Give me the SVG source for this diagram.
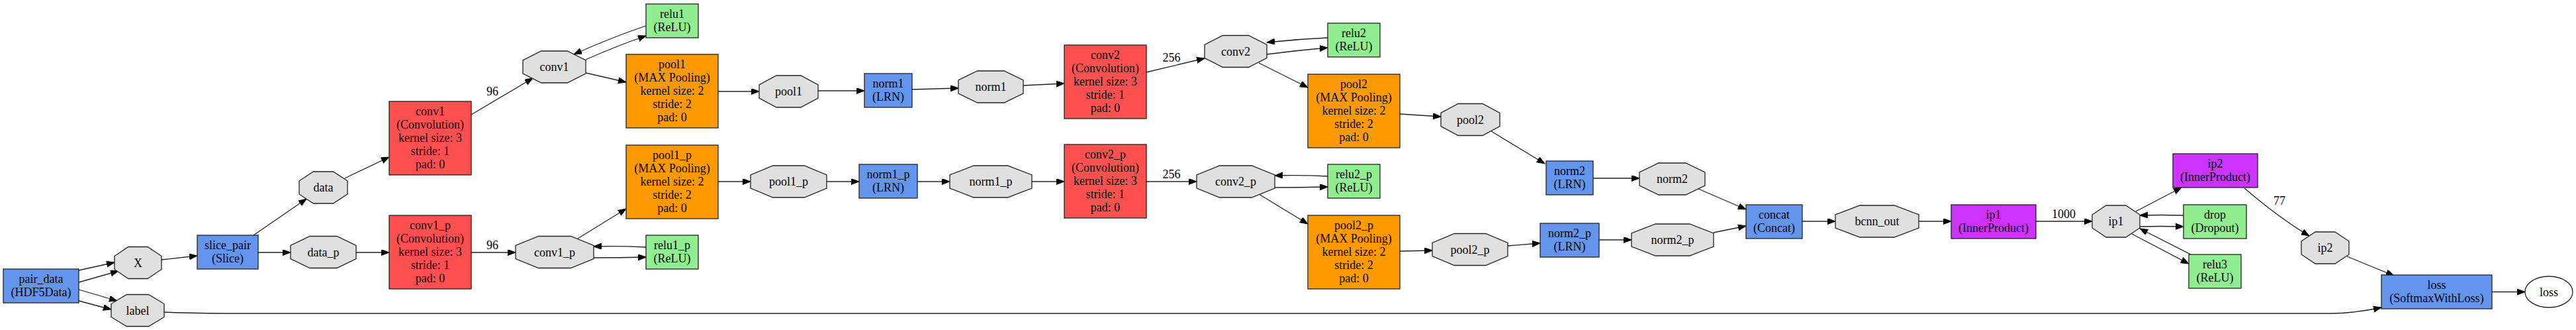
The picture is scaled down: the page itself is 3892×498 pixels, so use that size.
<svg xmlns="http://www.w3.org/2000/svg" width="3892" height="498" viewBox="0 0 3892 498">
<style>
text{font-family:"Liberation Serif","Times New Roman",serif;font-size:18px;fill:#000;text-anchor:middle}
.n{stroke:#222;stroke-width:1.3}
.conv{fill:#FF5050}.pool{fill:#FF9900}.ip{fill:#CC33FF}.act{fill:#90EE90}.oth{fill:#6495ED}.blob{fill:#E0E0E0}.out{fill:#fff}
.e{fill:none;stroke:#222;stroke-width:1.3;marker-end:url(#ah)}
</style>
<defs>
<marker id="ah" markerUnits="userSpaceOnUse" markerWidth="13" markerHeight="10" refX="12" refY="4.5" orient="auto"><path d="M0,0 L12,4.5 L0,9 z" fill="#000" stroke="#000" stroke-width="1"/></marker>
</defs>
<rect width="3892" height="498" fill="#fff"/>
<g id="connectors">
<path class="e" d="M119,408 L173,396"/>
<path class="e" d="M119,426 L179,409"/>
<path class="e" d="M119,437 L177,454"/>
<path class="e" d="M119,454 L168,467"/>
<path class="e" d="M244,392 L298,386"/>
<path class="e" d="M383,355 L463,300"/>
<path class="e" d="M390,381 L439,381"/>
<path class="e" d="M521,269 L588,237"/>
<path class="e" d="M538,381 L588,381"/>
<path class="e" d="M712,173 L805,118"/>
<path class="e" d="M885,90 Q930,70 976,54"/>
<path class="e" d="M976,39 Q925,56 867,82"/>
<path class="e" d="M885,110 L946,124"/>
<path class="e" d="M1085,138 L1147,138"/>
<path class="e" d="M1236,137 L1306,137"/>
<path class="e" d="M712,381 L779,381"/>
<path class="e" d="M873,360 L946,315"/>
<path class="e" d="M976,373 Q935,371 897,372"/>
<path class="e" d="M897,389 Q935,389 976,388"/>
<path class="e" d="M1085,274 L1134,274"/>
<path class="e" d="M1249,274 L1298,274"/>
<path class="e" d="M1378,135 L1448,133"/>
<path class="e" d="M1546,129 L1608,126"/>
<path class="e" d="M1732,109 L1820,88"/>
<path class="e" d="M1914,82 Q1960,76 2006,72"/>
<path class="e" d="M2006,57 Q1960,59 1914,64"/>
<path class="e" d="M1902,95 L1976,132"/>
<path class="e" d="M1386,274 L1435,274"/>
<path class="e" d="M1559,274 L1608,274"/>
<path class="e" d="M1732,274 L1808,274"/>
<path class="e" d="M2006,266 Q1965,264 1926,265"/>
<path class="e" d="M1926,283 Q1965,283 2006,282"/>
<path class="e" d="M1902,293 L1976,338"/>
<path class="e" d="M2115,172 L2177,176"/>
<path class="e" d="M2253,198 L2334,247"/>
<path class="e" d="M2115,379 L2164,378"/>
<path class="e" d="M2278,371 L2327,367"/>
<path class="e" d="M2407,269 L2477,269"/>
<path class="e" d="M2416,362 L2465,362"/>
<path class="e" d="M2566,285 L2638,316"/>
<path class="e" d="M2589,351 L2638,341"/>
<path class="e" d="M2723,334 L2773,334"/>
<path class="e" d="M2899,334 L2948,334"/>
<path class="e" d="M3076,334 L3161,334"/>
<path class="e" d="M3227,319 L3296,283"/>
<path class="e" d="M3233,342 Q3262,341 3299,342"/>
<path class="e" d="M3299,325 Q3265,324 3233,325"/>
<path class="e" d="M3221,353 L3307,398"/>
<path class="e" d="M3310,384 L3233,345"/>
<path class="e" d="M3391,284 Q3445,330 3489,356"/>
<path class="e" d="M3546,387 L3617,416"/>
<path class="e" d="M248,471 C290,473 320,473 360,473 L3520,473 C3550,473 3575,469 3598,464"/>
<path class="e" d="M3765,440.5 L3815,440.5"/>
<text x="744" y="144">96</text>
<text x="744" y="376">96</text>
<text x="1770" y="93">256</text>
<text x="1770" y="269">256</text>
<text x="3118" y="329">1000</text>
<text x="3444" y="309">77</text>
</g>
<g id="pair_data"><rect class="n oth" x="5" y="406" width="114" height="51"/><text x="62" y="427">pair_data</text><text x="62" y="447">(HDF5Data)</text></g>
<g id="blob_X"><polygon class="n blob" points="193.8,372.5 223.2,372.5 244,386.5 244,406.5 223.2,420.5 193.8,420.5 173,406.5 173,386.5"/><text x="208.5" y="402.5">X</text></g>
<g id="blob_label"><polygon class="n blob" points="191.4,444.5 224.6,444.5 248,458.5 248,478.5 224.6,492.5 191.4,492.5 168,478.5 168,458.5"/><text x="208" y="474.5">label</text></g>
<g id="slice_pair"><rect class="n oth" x="298" y="355" width="92" height="51"/><text x="344" y="376">slice_pair</text><text x="344" y="396">(Slice)</text></g>
<g id="blob_data"><polygon class="n blob" points="473.4,259 503.6,259 525,273 525,293 503.6,307 473.4,307 452,293 452,273"/><text x="488.5" y="289">data</text></g>
<g id="blob_data_p"><polygon class="n blob" points="468,356.5 509,356.5 538,370.5 538,390.5 509,404.5 468,404.5 439,390.5 439,370.5"/><text x="488.5" y="386.5">data_p</text></g>
<g id="conv1"><rect class="n conv" x="588" y="153" width="124" height="111"/><text x="650" y="174">conv1<tspan x="650" dy="20">(Convolution)</tspan><tspan x="650" dy="20">kernel size: 3</tspan><tspan x="650" dy="20">stride: 1</tspan><tspan x="650" dy="20">pad: 0</tspan></text></g>
<g id="conv1_p"><rect class="n conv" x="588" y="325" width="124" height="111"/><text x="650" y="346">conv1_p<tspan x="650" dy="20">(Convolution)</tspan><tspan x="650" dy="20">kernel size: 3</tspan><tspan x="650" dy="20">stride: 1</tspan><tspan x="650" dy="20">pad: 0</tspan></text></g>
<g id="blob_conv1"><polygon class="n blob" points="817.8,77 857.2,77 885,91 885,111 857.2,125 817.8,125 790,111 790,91"/><text x="837.5" y="107">conv1</text></g>
<g id="blob_conv1_p"><polygon class="n blob" points="813.6,356.5 862.4,356.5 897,370.5 897,390.5 862.4,404.5 813.6,404.5 779,390.5 779,370.5"/><text x="838" y="386.5">conv1_p</text></g>
<g id="relu1"><rect class="n act" x="976" y="6" width="79" height="51"/><text x="1015.5" y="27">relu1</text><text x="1015.5" y="47">(ReLU)</text></g>
<g id="pool1"><rect class="n pool" x="946" y="82" width="139" height="111"/><text x="1015.5" y="103">pool1<tspan x="1015.5" dy="20">(MAX Pooling)</tspan><tspan x="1015.5" dy="20">kernel size: 2</tspan><tspan x="1015.5" dy="20">stride: 2</tspan><tspan x="1015.5" dy="20">pad: 0</tspan></text></g>
<g id="pool1_p"><rect class="n pool" x="946" y="219" width="139" height="111"/><text x="1015.5" y="240">pool1_p<tspan x="1015.5" dy="20">(MAX Pooling)</tspan><tspan x="1015.5" dy="20">kernel size: 2</tspan><tspan x="1015.5" dy="20">stride: 2</tspan><tspan x="1015.5" dy="20">pad: 0</tspan></text></g>
<g id="relu1_p"><rect class="n act" x="976" y="355" width="79" height="51"/><text x="1015.5" y="376">relu1_p</text><text x="1015.5" y="396">(ReLU)</text></g>
<g id="blob_pool1"><polygon class="n blob" points="1173.1,114 1209.9,114 1236,128 1236,148 1209.9,162 1173.1,162 1147,148 1147,128"/><text x="1191.5" y="144">pool1</text></g>
<g id="blob_pool1_p"><polygon class="n blob" points="1167.7,250 1215.3,250 1249,264 1249,284 1215.3,298 1167.7,298 1134,284 1134,264"/><text x="1191.5" y="280">pool1_p</text></g>
<g id="norm1"><rect class="n oth" x="1306" y="111" width="72" height="51"/><text x="1342" y="132">norm1</text><text x="1342" y="152">(LRN)</text></g>
<g id="norm1_p"><rect class="n oth" x="1298" y="248" width="88" height="51"/><text x="1342" y="269">norm1_p</text><text x="1342" y="289">(LRN)</text></g>
<g id="blob_norm1"><polygon class="n blob" points="1476.7,107 1517.3,107 1546,121 1546,141 1517.3,155 1476.7,155 1448,141 1448,121"/><text x="1497" y="137">norm1</text></g>
<g id="blob_norm1_p"><polygon class="n blob" points="1471.3,250 1522.7,250 1559,264 1559,284 1522.7,298 1471.3,298 1435,284 1435,264"/><text x="1497" y="280">norm1_p</text></g>
<g id="conv2"><rect class="n conv" x="1608" y="68" width="124" height="111"/><text x="1670" y="89">conv2<tspan x="1670" dy="20">(Convolution)</tspan><tspan x="1670" dy="20">kernel size: 3</tspan><tspan x="1670" dy="20">stride: 1</tspan><tspan x="1670" dy="20">pad: 0</tspan></text></g>
<g id="conv2_p"><rect class="n conv" x="1608" y="218" width="124" height="111"/><text x="1670" y="239">conv2_p<tspan x="1670" dy="20">(Convolution)</tspan><tspan x="1670" dy="20">kernel size: 3</tspan><tspan x="1670" dy="20">stride: 1</tspan><tspan x="1670" dy="20">pad: 0</tspan></text></g>
<g id="blob_conv2"><polygon class="n blob" points="1847.5,53.5 1886.5,53.5 1914,67.5 1914,87.5 1886.5,101.5 1847.5,101.5 1820,87.5 1820,67.5"/><text x="1867" y="83.5">conv2</text></g>
<g id="blob_conv2_p"><polygon class="n blob" points="1842.6,250 1891.4,250 1926,264 1926,284 1891.4,298 1842.6,298 1808,284 1808,264"/><text x="1867" y="280">conv2_p</text></g>
<g id="relu2"><rect class="n act" x="2006" y="35" width="79" height="51"/><text x="2045.5" y="56">relu2</text><text x="2045.5" y="76">(ReLU)</text></g>
<g id="pool2"><rect class="n pool" x="1976" y="112" width="139" height="111"/><text x="2045.5" y="133">pool2<tspan x="2045.5" dy="20">(MAX Pooling)</tspan><tspan x="2045.5" dy="20">kernel size: 2</tspan><tspan x="2045.5" dy="20">stride: 2</tspan><tspan x="2045.5" dy="20">pad: 0</tspan></text></g>
<g id="relu2_p"><rect class="n act" x="2006" y="248" width="79" height="51"/><text x="2045.5" y="269">relu2_p</text><text x="2045.5" y="289">(ReLU)</text></g>
<g id="pool2_p"><rect class="n pool" x="1976" y="325" width="139" height="111"/><text x="2045.5" y="346">pool2_p<tspan x="2045.5" dy="20">(MAX Pooling)</tspan><tspan x="2045.5" dy="20">kernel size: 2</tspan><tspan x="2045.5" dy="20">stride: 2</tspan><tspan x="2045.5" dy="20">pad: 0</tspan></text></g>
<g id="blob_pool2"><polygon class="n blob" points="2203.1,156.5 2239.9,156.5 2266,170.5 2266,190.5 2239.9,204.5 2203.1,204.5 2177,190.5 2177,170.5"/><text x="2221.5" y="186.5">pool2</text></g>
<g id="blob_pool2_p"><polygon class="n blob" points="2197.4,352.5 2244.6,352.5 2278,366.5 2278,386.5 2244.6,400.5 2197.4,400.5 2164,386.5 2164,366.5"/><text x="2221" y="382.5">pool2_p</text></g>
<g id="norm2"><rect class="n oth" x="2336" y="243" width="71" height="51"/><text x="2371.5" y="264">norm2</text><text x="2371.5" y="284">(LRN)</text></g>
<g id="norm2_p"><rect class="n oth" x="2327" y="337" width="89" height="51"/><text x="2371.5" y="358">norm2_p</text><text x="2371.5" y="378">(LRN)</text></g>
<g id="blob_norm2"><polygon class="n blob" points="2506,246 2547,246 2576,260 2576,280 2547,294 2506,294 2477,280 2477,260"/><text x="2526.5" y="276">norm2</text></g>
<g id="blob_norm2_p"><polygon class="n blob" points="2501.3,338 2552.7,338 2589,352 2589,372 2552.7,386 2501.3,386 2465,372 2465,352"/><text x="2527" y="368">norm2_p</text></g>
<g id="concat"><rect class="n oth" x="2638" y="309" width="85" height="51"/><text x="2680.5" y="330">concat</text><text x="2680.5" y="350">(Concat)</text></g>
<g id="blob_bcnn_out"><polygon class="n blob" points="2809.9,310 2862.1,310 2899,324 2899,344 2862.1,358 2809.9,358 2773,344 2773,324"/><text x="2836" y="340">bcnn_out</text></g>
<g id="ip1"><rect class="n ip" x="2948" y="309" width="128" height="51"/><text x="3012" y="330">ip1</text><text x="3012" y="350">(InnerProduct)</text></g>
<g id="blob_ip1"><polygon class="n blob" points="3182.1,310 3211.9,310 3233,324 3233,344 3211.9,358 3182.1,358 3161,344 3161,324"/><text x="3197" y="340">ip1</text></g>
<g id="ip2"><rect class="n ip" x="3283" y="232" width="128" height="51"/><text x="3347" y="253">ip2</text><text x="3347" y="273">(InnerProduct)</text></g>
<g id="drop"><rect class="n act" x="3299" y="309" width="95" height="51"/><text x="3346.5" y="330">drop</text><text x="3346.5" y="350">(Dropout)</text></g>
<g id="relu3"><rect class="n act" x="3307" y="384" width="79" height="51"/><text x="3346.5" y="405">relu3</text><text x="3346.5" y="425">(ReLU)</text></g>
<g id="blob_ip2"><polygon class="n blob" points="3498.1,350 3527.9,350 3549,364 3549,384 3527.9,398 3498.1,398 3477,384 3477,364"/><text x="3513" y="380">ip2</text></g>
<g id="loss"><rect class="n oth" x="3598" y="415" width="167" height="51"/><text x="3681.5" y="436">loss</text><text x="3681.5" y="456">(SoftmaxWithLoss)</text></g>
<g id="blob_loss"><ellipse class="n out" cx="3851" cy="440.5" rx="36" ry="23.5"/><text x="3851" y="446.5">loss</text></g>
</svg>
